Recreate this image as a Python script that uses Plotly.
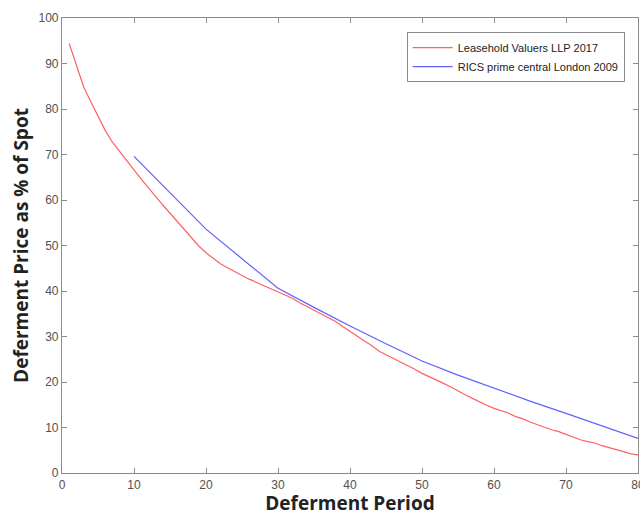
import plotly.graph_objects as go

# Leasehold Valuers LLP 2017 (years 1..80)
lv_years = list(range(1, 81))
lv_values = [94.4, 89.5, 84.9, 81.6, 78.3, 75.3, 72.7, 70.6, 68.7, 66.6,
             64.6, 62.6, 60.8, 58.9, 57.1, 55.2, 53.3, 51.5, 49.9, 48.4,
             47.1, 46.0, 45.1, 44.2, 43.4, 42.6, 41.9, 41.2, 40.5, 39.8,
             39.2, 38.4, 37.4, 36.6, 35.8, 35.0, 34.2, 33.3, 32.2, 31.1,
             30.1, 29.0, 28.0, 26.8, 26.0, 25.2, 24.4, 23.7, 22.8, 21.9,
             21.2, 20.5, 19.7, 18.9, 18.0, 17.2, 16.4, 15.6, 14.9, 14.2,
             13.7, 13.2, 12.4, 11.9, 11.2, 10.6, 10.0, 9.5, 9.1, 8.5,
             7.9, 7.3, 6.9, 6.6, 6.0, 5.6, 5.2, 4.7, 4.2, 4.0]

# RICS prime central London 2009
rics_years = [10, 15, 20, 25, 30, 35, 40, 45, 50, 55, 60, 65, 70, 75, 80]
rics_values = [69.6, 61.6, 53.6, 47.1, 40.6, 36.4, 32.3, 28.4, 24.6, 21.5,
               18.6, 15.8, 13.1, 10.3, 7.6]

x_ticks = [0, 10, 20, 30, 40, 50, 60, 70, 80]
y_ticks = [0, 10, 20, 30, 40, 50, 60, 70, 80, 90, 100]

fig = go.Figure()
fig.add_trace(go.Scatter(x=lv_years, y=lv_values, mode="lines",
                         name="Leasehold Valuers LLP 2017",
                         line=dict(color="#ff6060", width=1.2)))
fig.add_trace(go.Scatter(x=rics_years, y=rics_values, mode="lines",
                         name="RICS prime central London 2009",
                         line=dict(color="#6060ff", width=1.2)))

axis_common = dict(showline=True, linecolor="#8c8c8c", linewidth=1.2,
                   mirror="ticks", ticks="inside", ticklen=5, tickcolor="#8c8c8c",
                   showgrid=False, zeroline=False, ticklabeloverflow="allow",
                   automargin=False,
                   tickfont=dict(family="Liberation Sans", size=12, color="#505050"))

fig.update_layout(
    width=640, height=516,
    margin=dict(l=62, r=2, t=18, b=43),
    paper_bgcolor="white", plot_bgcolor="white",
    xaxis=dict(range=[0, 80], tickvals=x_ticks,
               title=dict(text="<b>Deferment Period</b>", standoff=7,
                          font=dict(family="Open Sans", size=19, color="#222222")),
               **axis_common),
    yaxis=dict(range=[0, 100], tickvals=y_ticks,
               title=dict(text="<b>Deferment Price as % of Spot</b>", standoff=4,
                          font=dict(family="Open Sans", size=19, color="#222222")),
               **axis_common),
    legend=dict(x=0.977, y=0.969, xanchor="right", yanchor="top",
                bgcolor="white", bordercolor="#8c8c8c", borderwidth=1,
                itemwidth=40, tracegroupgap=0,
                font=dict(family="Liberation Sans", size=11, color="#222222")),
    showlegend=True,
)

fig.write_html("out.html")
